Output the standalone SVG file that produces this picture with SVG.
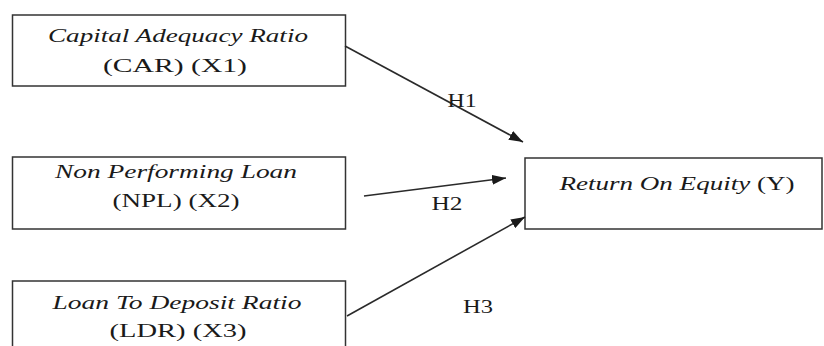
<svg xmlns="http://www.w3.org/2000/svg" width="824" height="346" viewBox="0 0 824 346">
<style>
.box{fill:#fff;stroke:#333;stroke-width:1.5}
.t{font-family:"Liberation Serif","Times New Roman",serif;font-size:18px;fill:#1a1a1a;text-anchor:middle}
.i{font-style:italic}
.c{stroke:#2a2a2a;stroke-width:1.6;fill:none;marker-end:url(#ah)}
</style>
<defs>
<marker id="ah" viewBox="0 0 14 10" refX="14" refY="5" markerWidth="14" markerHeight="10" markerUnits="userSpaceOnUse" orient="auto">
<path d="M0,0 L14,5 L0,10 Z" fill="#1a1a1a"/>
</marker>
</defs>
<rect width="824" height="346" fill="#fff"/>
<g id="n1">
<rect class="box" x="12.5" y="15" width="333" height="71"/>
<text class="t i" x="178" y="42" textLength="260" lengthAdjust="spacingAndGlyphs">Capital Adequacy Ratio</text>
<text class="t" x="175" y="72" textLength="144" lengthAdjust="spacingAndGlyphs">(CAR) (X1)</text>
</g>
<g id="n2">
<rect class="box" x="12.5" y="157" width="333" height="72"/>
<text class="t i" x="176" y="178" textLength="242" lengthAdjust="spacingAndGlyphs">Non Performing Loan</text>
<text class="t" x="176" y="207" textLength="127" lengthAdjust="spacingAndGlyphs">(NPL) (X2)</text>
</g>
<g id="n3">
<rect class="box" x="12.5" y="281" width="333" height="80"/>
<text class="t i" x="177" y="309" textLength="249" lengthAdjust="spacingAndGlyphs">Loan To Deposit Ratio</text>
<text class="t" x="178" y="337" textLength="137" lengthAdjust="spacingAndGlyphs">(LDR)  (X3)</text>
</g>
<g id="ny">
<rect class="box" x="525" y="158" width="297" height="71"/>
<text class="t" x="677" y="190" textLength="235" lengthAdjust="spacingAndGlyphs"><tspan font-style="italic">Return On Equity</tspan> (Y)</text>
</g>
<g id="connectors">
<line class="c" x1="345" y1="46" x2="523" y2="142"/>
<line class="c" x1="364" y1="196" x2="506" y2="178"/>
<line class="c" x1="347" y1="316" x2="525" y2="217"/>
<text class="t" x="462" y="107" textLength="29" lengthAdjust="spacingAndGlyphs">H1</text>
<text class="t" x="447" y="210" textLength="31" lengthAdjust="spacingAndGlyphs">H2</text>
<text class="t" x="478" y="313" textLength="30" lengthAdjust="spacingAndGlyphs">H3</text>
</g>
</svg>
